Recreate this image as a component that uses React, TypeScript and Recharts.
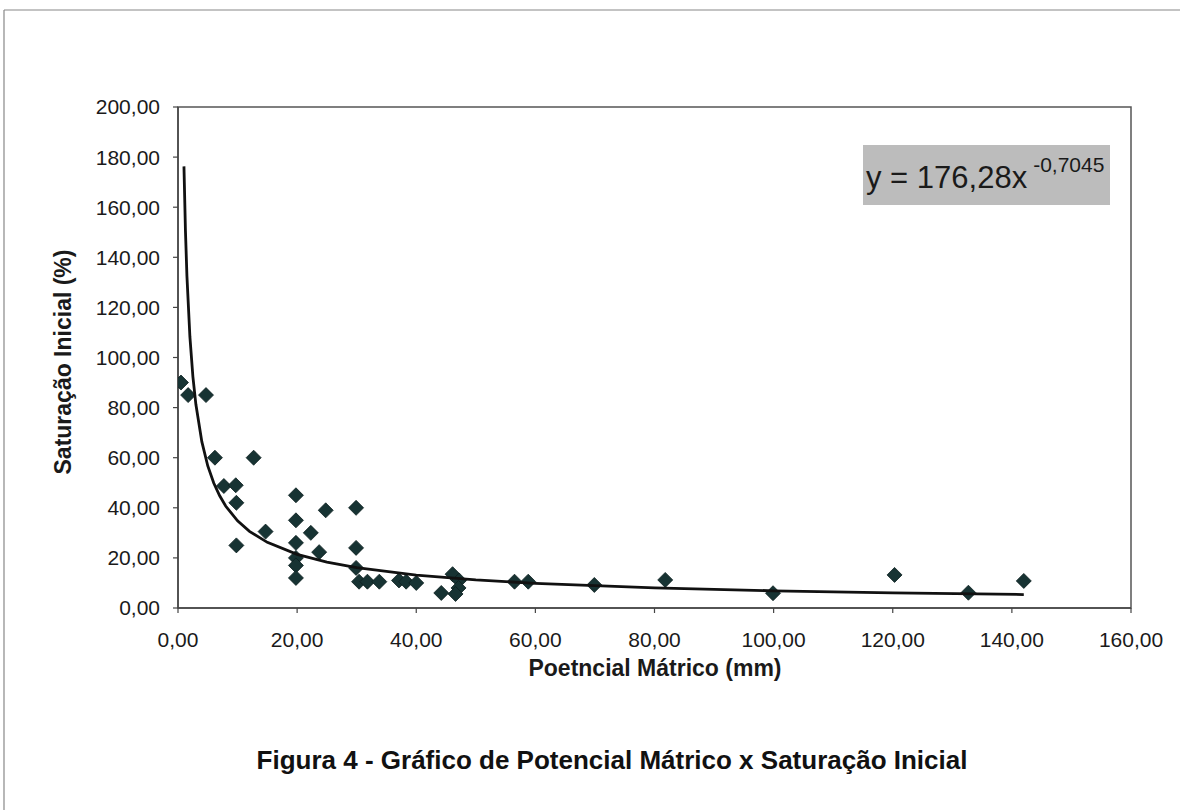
import React from 'react';
import { ScatterChart, Scatter, XAxis, YAxis, ReferenceArea } from 'recharts';

const potencial: number[] = [0.5, 1.7, 4.7, 6.2, 12.7, 7.7, 9.7, 9.8, 9.8, 14.7, 19.8, 19.8, 19.8, 19.8, 19.8, 19.8, 22.3, 23.7, 24.8, 29.9, 29.9, 29.9, 30.4, 31.8, 33.8, 37.1, 38.3, 40.0, 44.2, 46.1, 47.2, 47.1, 46.6, 56.5, 58.8, 69.9, 81.8, 99.9, 120.3, 132.7, 142.0];
const saturacao: number[] = [90, 85, 85, 60, 60, 48.7, 49, 42, 25, 30.5, 45, 35, 26, 20, 17, 12, 30, 22.3, 39, 40, 24, 16, 10.5, 10.5, 10.5, 11, 10.5, 10, 6, 13.5, 11, 8, 5.6, 10.5, 10.5, 9.2, 11.2, 5.9, 13.2, 6.1, 10.8];

const trendX: number[] = [1, 1.25, 1.5, 2, 2.5, 3, 4, 5, 6, 7, 8, 10, 12, 15, 20, 25, 30, 40, 50, 60, 80, 100, 120, 142];
const trendY: number[] = [176.3, 150.6, 132.5, 108.2, 92.4, 81.3, 66.4, 56.7, 49.9, 44.8, 40.7, 34.8, 30.6, 26.2, 21.4, 18.3, 16.1, 13.1, 11.2, 9.86, 8.04, 6.87, 6.05, 5.37];

const xTicks: number[] = [0, 20, 40, 60, 80, 100, 120, 140, 160];
const yTicks: number[] = [0, 20, 40, 60, 80, 100, 120, 140, 160, 180, 200];

const xTitle = 'Poetncial Mátrico (mm)';
const yTitle = 'Saturação Inicial (%)';
const caption = 'Figura 4 - Gráfico de Potencial Mátrico x Saturação Inicial';
const eqMain = 'y = 176,28x';
const eqExp = '-0,7045';

const points = potencial.map((x, i) => ({ x, y: saturacao[i] }));
const trend = trendX.map((x, i) => ({ x, y: trendY[i] }));

const fmt = (v: number) => v.toFixed(2).replace('.', ',');

const Diamond = (props: any) => {
  const { cx, cy } = props;
  if (cx == null || cy == null) return <g />;
  const r = 7.5;
  return (
    <polygon
      points={`${cx},${cy - r} ${cx + r},${cy} ${cx},${cy + r} ${cx - r},${cy}`}
      fill="#173333"
      stroke="#0d1f1f"
      strokeWidth={0.8}
    />
  );
};

const NoShape = () => <g />;

const FONT = '"Liberation Sans", Arial, Helvetica, sans-serif';

export default function App() {
  return (
    <div style={{ position: 'absolute', left: 0, top: 0, width: 1180, height: 810, background: '#ffffff', fontFamily: FONT }}>
      <ScatterChart width={1180} height={810} margin={{ top: 107, right: 49, bottom: 0, left: 0 }}>
        <XAxis
          type="number"
          dataKey="x"
          domain={[0, 160]}
          ticks={xTicks}
          tickFormatter={fmt}
          height={202}
          tickSize={5}
          tickMargin={19}
          axisLine={{ stroke: '#444', strokeWidth: 1.5 }}
          tickLine={{ stroke: '#444', strokeWidth: 1.2 }}
          tick={{ fill: '#1a1a1a', fontSize: 21, fontFamily: FONT }}
          allowDataOverflow
        />
        <YAxis
          type="number"
          dataKey="y"
          domain={[0, 200]}
          ticks={yTicks}
          tickFormatter={fmt}
          width={178}
          tickSize={5}
          tickMargin={13}
          axisLine={{ stroke: '#444', strokeWidth: 1.5 }}
          tickLine={{ stroke: '#444', strokeWidth: 1.2 }}
          tick={{ fill: '#1a1a1a', fontSize: 21, fontFamily: FONT }}
          allowDataOverflow
        />
        <ReferenceArea x1={0} x2={160} y1={0} y2={200} fill="none" stroke="#555" strokeWidth={1.5} />
        <Scatter
          data={points}
          shape={Diamond}
          isAnimationActive={false}
          legendType="none"
        />
        <Scatter
          data={trend}
          shape={NoShape}
          line={{ stroke: '#111', strokeWidth: 2.8 }}
          lineType="joint"
          isAnimationActive={false}
          legendType="none"
        />
      </ScatterChart>
      <svg
        width={1180}
        height={810}
        style={{ position: 'absolute', left: 0, top: 0, pointerEvents: 'none' }}
      >
        <line x1={4} y1={10} x2={1180} y2={10} stroke="#888" strokeWidth={1.2} />
        <line x1={4} y1={10} x2={4} y2={810} stroke="#888" strokeWidth={1.2} />
        <rect x={863} y={145} width={247} height={60} fill="#bcbcbc" />
        <text x={866} y={188} fontSize={31} fill="#1a1a1a" fontFamily={FONT}>
          <tspan>{eqMain}</tspan>
          <tspan dy={-16} dx={6} fontSize={21}>{eqExp}</tspan>
        </text>
        <text x={655} y={676} fontSize={23} fontWeight="bold" fill="#1a1a1a" textAnchor="middle" fontFamily={FONT}>
          {xTitle}
        </text>
        <text
          x={0}
          y={0}
          transform="translate(71,362) rotate(-90)"
          fontSize={23}
          fontWeight="bold"
          fill="#1a1a1a"
          textAnchor="middle"
          fontFamily={FONT}
        >
          {yTitle}
        </text>
        <text x={612} y={769} fontSize={26} fontWeight="bold" fill="#111" textAnchor="middle" fontFamily={FONT}>
          {caption}
        </text>
      </svg>
    </div>
  );
}
